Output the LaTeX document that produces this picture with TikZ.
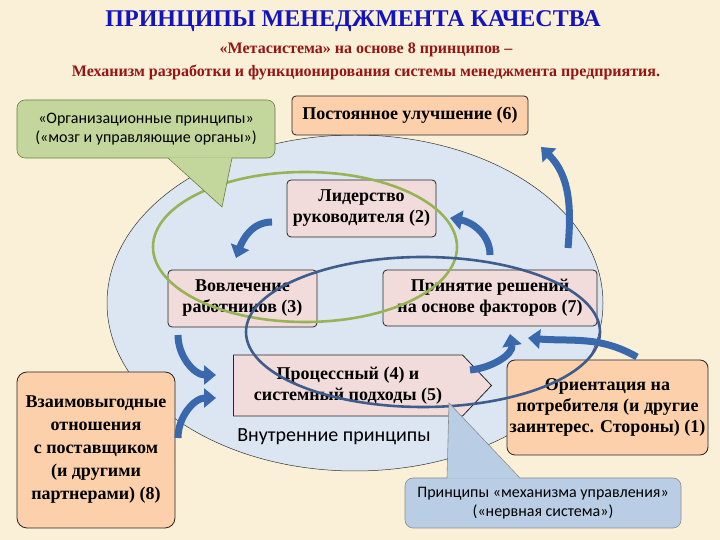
\documentclass[tikz,border=0pt]{standalone}
\usepackage{fontspec}
\setmainfont{Liberation Serif}
\newfontfamily\calfont{Carlito}
\usetikzlibrary{arrows.meta}
\usetikzlibrary{shapes.symbols}
\definecolor{paper}{RGB}{250,240,215}
\definecolor{oval}{RGB}{220,230,242}
\definecolor{rose}{RGB}{242,220,219}
\definecolor{peach}{RGB}{251,208,170}
\definecolor{olive}{RGB}{150,180,85}
\definecolor{notegreen}{RGB}{195,214,155}
\definecolor{noteblue}{RGB}{185,205,229}
\definecolor{ringblue}{RGB}{62,92,140}
\definecolor{flowblue}{RGB}{58,104,172}
\definecolor{titleblue}{RGB}{20,20,190}
\definecolor{subred}{RGB}{150,20,20}
\tikzset{
  box/.style={draw=black!85, line width=0.8pt, rounded corners=4pt, align=center, inner sep=0pt,
    font=\bfseries\fontsize{18}{21}\selectfont},
  rosebox/.style={box, fill=rose},
  peachbox/.style={box, fill=peach},
  note/.style={line width=0.6pt, rounded corners=8pt, align=center, inner sep=0pt,
    font=\calfont\fontsize{16}{19}\selectfont},
  flow/.style={flowblue, line width=7pt, -{Triangle[width=19pt,length=12pt]}},
}
\newcommand{\flow}[4]{\draw[flow] (#1) to[out=#3,in=#4] (#2);}
\begin{document}
\begin{tikzpicture}[x=1pt,y=1pt]
    \fill[paper] (0,0) rectangle (720,540);
    \useasboundingbox (0,0) rectangle (720,540);
    % heading
    \node[font=\bfseries\fontsize{24}{28}\selectfont, text=titleblue] (title) at (353,519) {ПРИНЦИПЫ МЕНЕДЖМЕНТА КАЧЕСТВА};
    \node[font=\bfseries\fontsize{16}{23}\selectfont, text=subred, align=center] (sub) at (366,478.5)
        {«Метасистема» на основе 8 принципов –\\Механизм разработки и функционирования системы менеджмента предприятия.};
    % oval
    \filldraw[fill=oval, draw=black!80, line width=0.5pt] (355,237) ellipse [x radius=248, y radius=168];
    % boxes
    \node[peachbox, minimum width=236pt, minimum height=39pt] (improve) at (410,424.5) {Постоянное улучшение (6)};
    \node[rosebox, minimum width=149pt, minimum height=57pt] (leader) at (361.5,331.5) {Лидерство\\руководителя (2)};
    \node[rosebox, minimum width=149pt, minimum height=57pt] (involve) at (242.5,241.5) {Вовлечение\\работников (3)};
    \node[rosebox, minimum width=214pt, minimum height=56pt] (decide) at (490,242) {Принятие решений\\на основе факторов (7)};
    \node[box, fill=rose, rounded corners=0pt, shape=signal, signal to=east, signal pointer angle=93,
        minimum width=258pt, minimum height=61pt] (process) at (348,154.5) {Процессный (4) и\\системный подходы (5)};
    \node[peachbox, rounded corners=10pt, minimum width=158pt, minimum height=156pt,
        font=\bfseries\fontsize{18}{23}\selectfont] (partner) at (96,90)
        {Взаимовыгодные\\отношения\\с поставщиком\\(и другими\\партнерами) (8)};
    \node[peachbox, rounded corners=8pt, minimum width=201pt, minimum height=95pt] (customer) at (607.5,132.5)
        {Ориентация на\\потребителя (и другие\\заинтерес. Стороны) (1)};
    \node[font=\calfont\fontsize{20}{22}\selectfont] (inner) at (334,103) {Внутренние принципы};
    % rings
    \draw[olive, line width=2.6pt] (305,293) ellipse [x radius=152, y radius=75];
    \draw[ringblue, line width=2.6pt] (423,208) ellipse [x radius=177, y radius=75];
    % arrows
    \coordinate (lead-out) at (272,318);
    \coordinate (inv-in) at (236,282);
    \coordinate (inv-out) at (178,205);
    \coordinate (proc-in1) at (216,165);
    \coordinate (part-out) at (178,102);
    \coordinate (proc-in2) at (216,142);
    \coordinate (proc-out) at (470,170);
    \coordinate (dec-in1) at (510,206);
    \coordinate (cust-out) at (637,183);
    \coordinate (dec-in2) at (528,202);
    \coordinate (dec-out) at (490,285);
    \coordinate (lead-in) at (450,322);
    \coordinate (loop-out) at (568,292);
    \coordinate (loop-in) at (541,393);
    \flow{lead-out}{inv-in}{180}{70}
    \flow{inv-out}{proc-in1}{-90}{180}
    \flow{part-out}{proc-in2}{90}{180}
    \flow{proc-out}{dec-in1}{5}{-80}
    \flow{cust-out}{dec-in2}{150}{-5}
    \flow{dec-out}{lead-in}{90}{-10}
    \flow{loop-out}{loop-in}{85}{-45}
    % callouts
    \node[note, draw=olive!70!black, fill=notegreen, minimum width=258pt, minimum height=58pt] (orgnote) at (146,411)
        {«Организационные принципы»\\(«мозг и управляющие органы»)};
    \fill[notegreen] (168,382.6) -- (222,333) -- (232,382.6) -- cycle;
    \draw[olive!70!black, line width=0.6pt] (168,382) -- (222,333) -- (232,382);
    \node[note, draw=black!45, fill=noteblue, minimum width=276pt, minimum height=50pt] (ctrlnote) at (543,37)
        {Принципы «механизма управления»\\(«нервная система»)};
    \fill[noteblue] (447,61.4) -- (449,137) -- (520,61.4) -- cycle;
    \draw[black!45, line width=0.6pt] (447,62) -- (449,137) -- (520,62);
\end{tikzpicture}
\end{document}
